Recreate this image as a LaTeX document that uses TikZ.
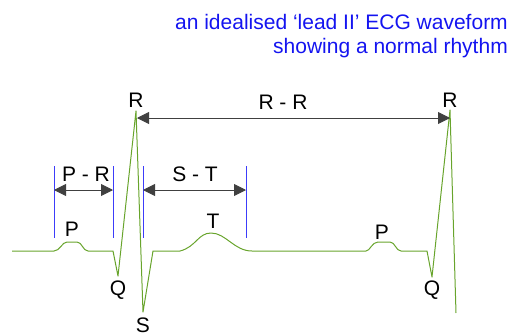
\documentclass[tikz,border=0pt]{standalone}
\usepackage{fontspec}
\setmainfont{Liberation Sans}
\usetikzlibrary{arrows.meta}
\definecolor{ecggreen}{RGB}{104,164,44}
\definecolor{markblue}{RGB}{60,60,250}
\definecolor{titleblue}{RGB}{20,20,240}
\begin{document}
\begin{tikzpicture}[x=1pt,y=-1pt,
  wave/.style={draw=ecggreen,line width=1pt,line join=round},
  marker/.style={draw=markblue,line width=1pt},
  dim/.style={draw=black!75,line width=0.9pt,{Triangle[length=12pt,width=12pt]}-{Triangle[length=12pt,width=12pt]}},
  lbl/.style={inner sep=0pt,font=\fontsize{21}{21}\selectfont},
  ttl/.style={inner sep=0pt,font=\fontsize{21}{21}\selectfont,text=titleblue,anchor=east}]
\useasboundingbox (0,0) rectangle (512,333);
% waveform
\draw[wave] (12,251) -- (54,251) .. controls (60,251) and (62,242) .. (67,242) -- (77,242)
  .. controls (82,242) and (83,251) .. (88,251) -- (113,251) -- (118,276) -- (136,111)
  -- (143,312) -- (153,251) -- (180,251)
  .. controls (196,247) and (198,233) .. (211,233)
  .. controls (226,233) and (234,251) .. (252,251) -- (366,251)
  .. controls (370,251) and (372,242) .. (378,242) -- (390,242)
  .. controls (395,242) and (396,251) .. (401,251) -- (427,251) -- (432,277) -- (450,110) -- (456,313);
% blue markers
\coordinate (b1t) at (54,166); \coordinate (b1b) at (54,238);
\coordinate (b2t) at (113,166); \coordinate (b2b) at (113,238);
\coordinate (b3t) at (143,166); \coordinate (b3b) at (143,238);
\coordinate (b4t) at (246,166); \coordinate (b4b) at (246,238);
\draw[marker] (b1t) -- (b1b);
\draw[marker] (b2t) -- (b2b);
\draw[marker] (b3t) -- (b3b);
\draw[marker] (b4t) -- (b4b);
% dimension arrows
\coordinate (pr1) at (54,190); \coordinate (pr2) at (113,190);
\coordinate (st1) at (143,190); \coordinate (st2) at (246,190);
\coordinate (rr1) at (137,118); \coordinate (rr2) at (450,118);
\draw[dim] (pr1) -- (pr2);
\draw[dim] (st1) -- (st2);
\draw[dim] (rr1) -- (rr2);
% labels
\node[lbl] (lpr) at (86,174) {P - R};
\node[lbl] (lst) at (195,174) {S - T};
\node[lbl] (lrr) at (283,102) {R - R};
\node[lbl] (r1) at (136,100) {R};
\node[lbl] (r2) at (450,100) {R};
\node[lbl] (p1) at (72,229) {P};
\node[lbl] (p2) at (382,232) {P};
\node[lbl] (t1) at (213,221) {T};
\node[lbl] (q1) at (118,290) {Q};
\node[lbl] (q2) at (432,290) {Q};
\node[lbl] (s1) at (143,325) {S};
% title
\node[ttl] (tl1) at (508,22) {an idealised ‘lead II’ ECG waveform};
\node[ttl] (tl2) at (508,48) {showing a normal rhythm};
\end{tikzpicture}
\end{document}
